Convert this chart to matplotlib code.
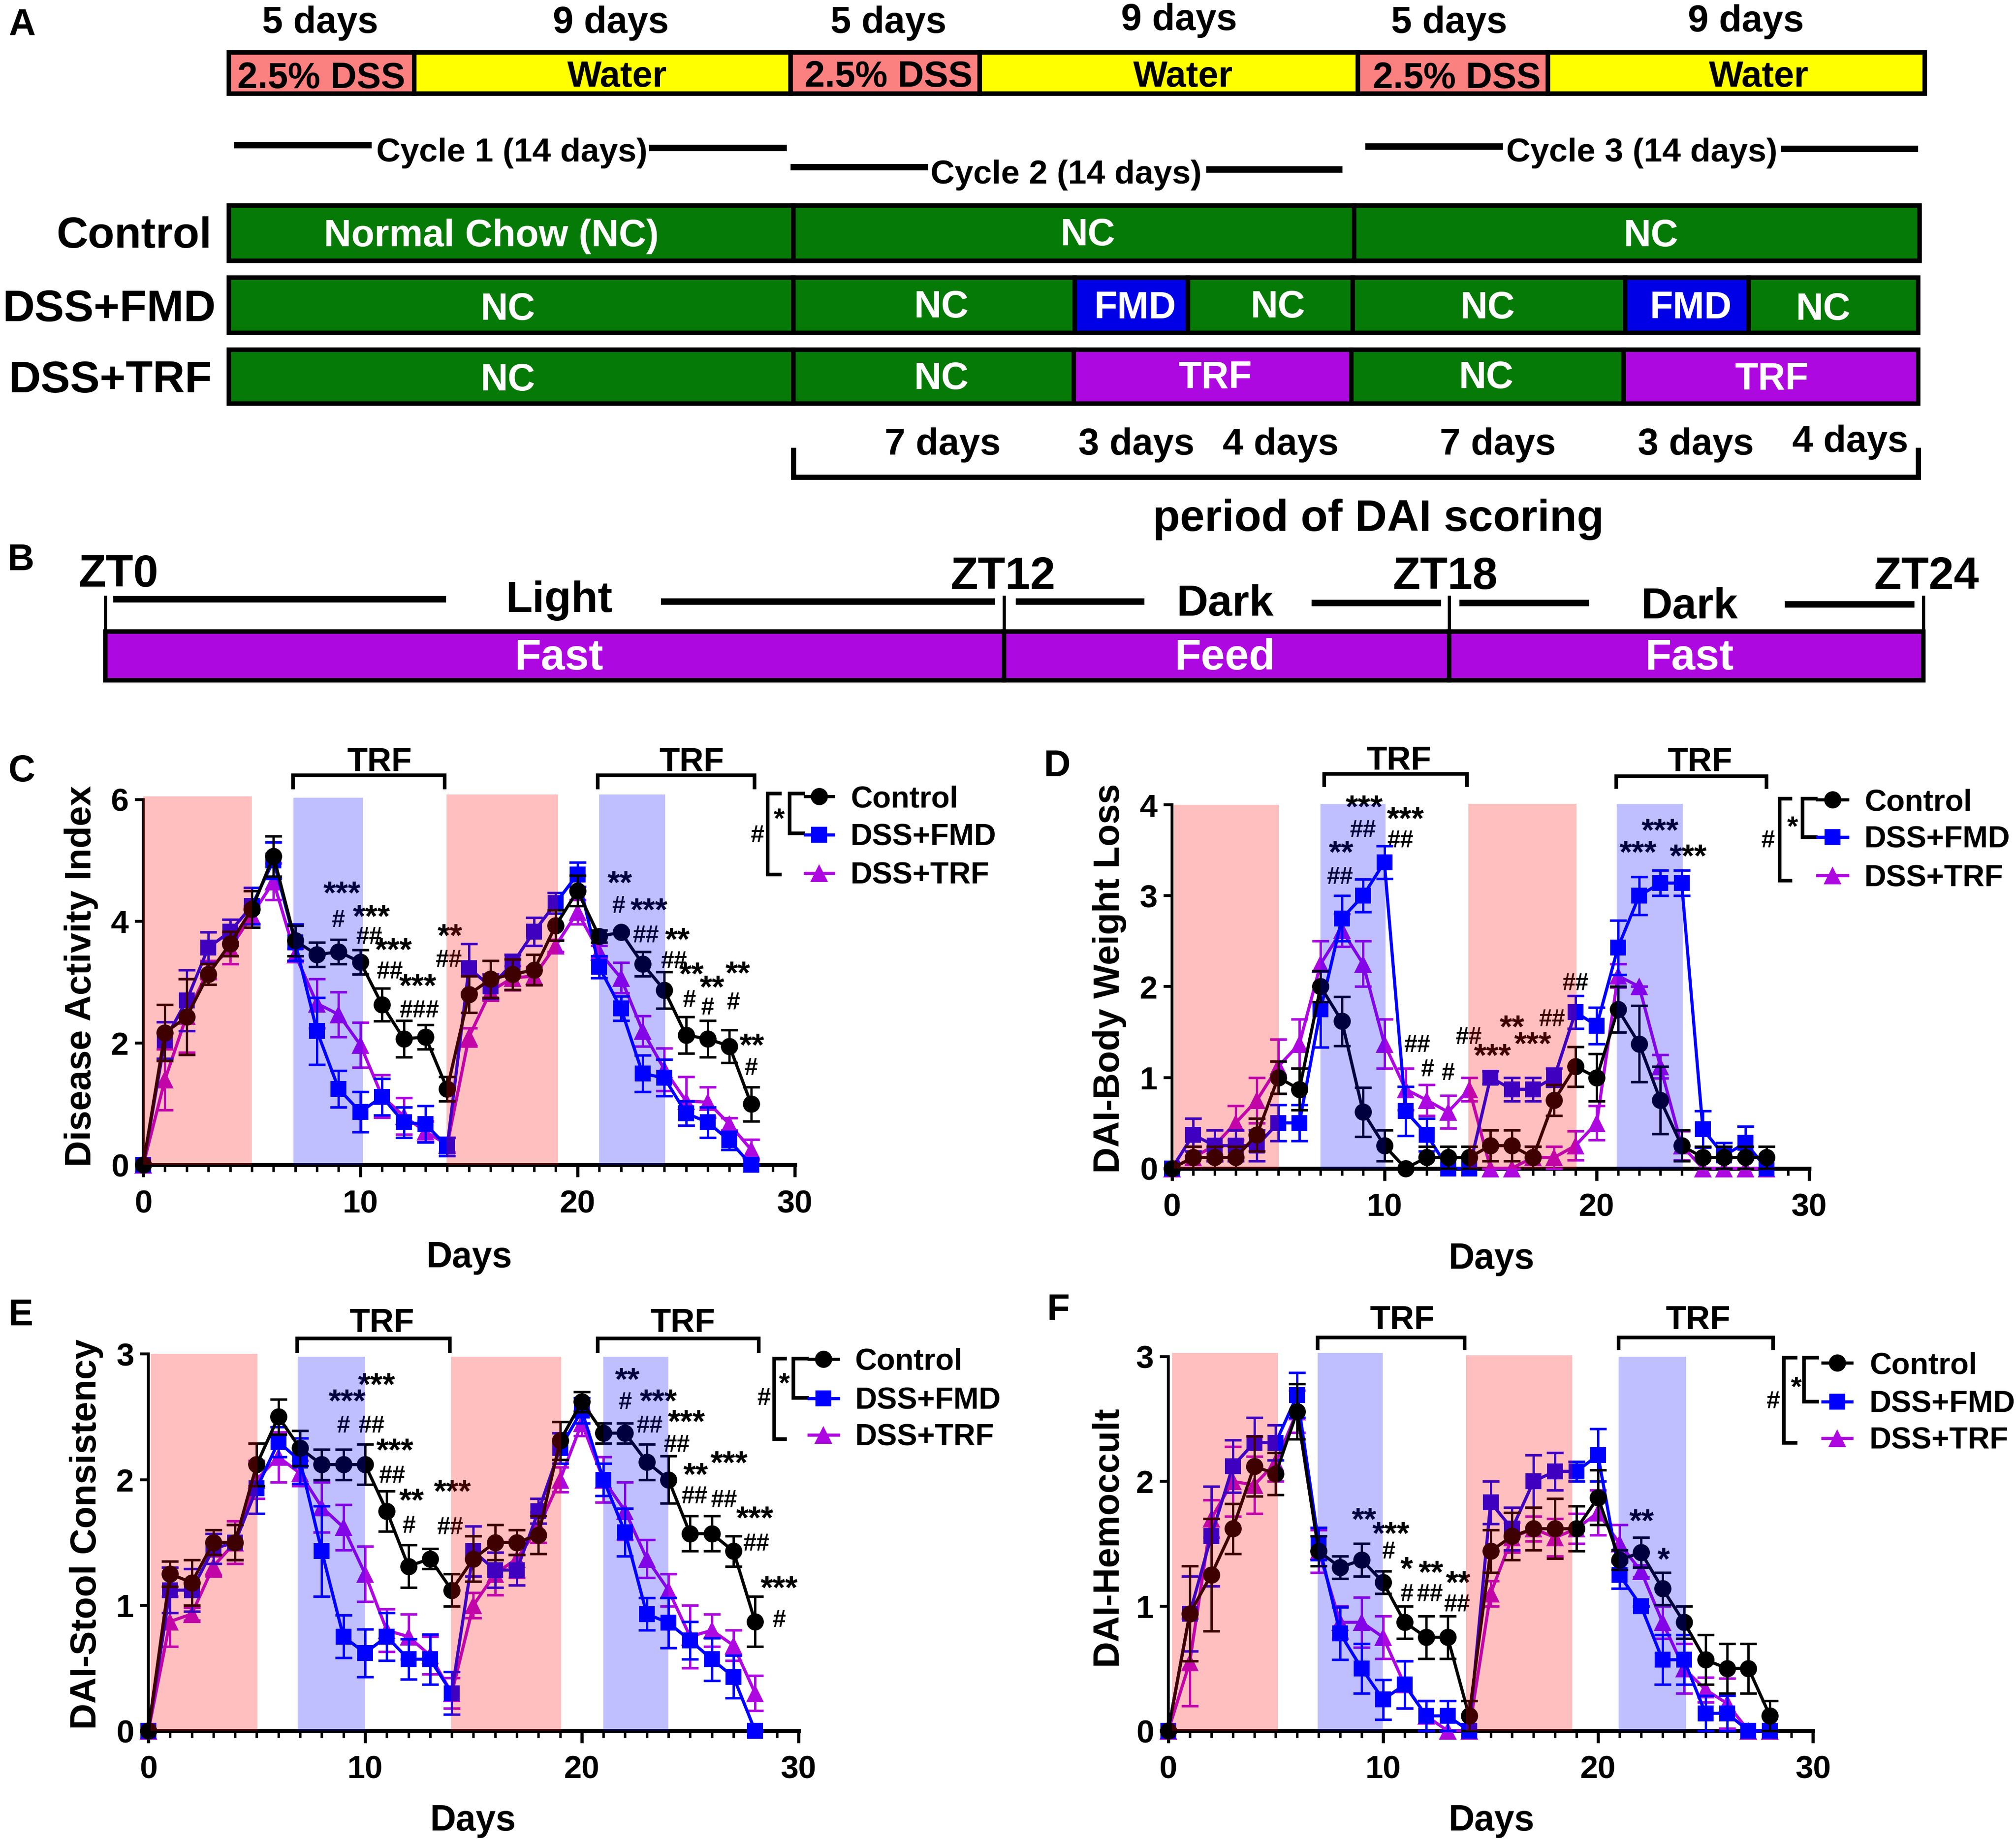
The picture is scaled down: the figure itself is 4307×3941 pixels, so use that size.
import matplotlib
matplotlib.use("Agg")
import matplotlib.pyplot as plt
from matplotlib.patches import Rectangle
from matplotlib.ticker import MultipleLocator

plt.rcParams['font.family'] = ['Liberation Sans', 'DejaVu Sans']
plt.rcParams['font.weight'] = 'bold'

days = list(range(29))

c_ctrl = [0,2.17,2.43,3.13,3.63,4.2,5.07,3.68,3.45,3.5,3.33,2.63,2.07,2.1,1.25,2.8,3.05,3.13,3.2,3.93,4.5,3.75,3.82,3.3,2.87,2.13,2.07,1.95,1.0]
c_ctrl_e = [0,.46,.62,.17,.2,.3,.33,.25,.2,.2,.2,.27,.3,.2,.2,.3,.3,.25,.25,.25,.25,.1,.03,.2,.3,.3,.3,.27,.28]
c_fmd = [0,2.05,2.7,3.57,3.83,4.25,5.0,3.65,2.2,1.25,.87,1.12,.7,.67,.3,3.23,2.93,3.3,3.83,4.3,4.77,3.25,2.57,1.5,1.43,.85,.7,.4,0]
c_fmd_e = [0,.3,.5,.25,.2,.3,.3,.3,.55,.3,.33,.3,.25,.3,.15,.4,.2,.15,.23,.17,.2,.18,.2,.3,.3,.2,.25,.15,0]
c_trf = [0,1.4,2.45,3.2,3.55,4.1,4.65,3.45,2.65,2.47,1.97,1.13,.8,.55,.33,2.1,2.85,3.07,3.1,3.6,4.15,3.5,3.07,2.2,1.57,1.05,1.03,.67,.25]
c_trf_e = [0,.5,.6,.15,.25,.15,.3,.1,.4,.37,.37,.35,.3,.17,.12,.15,.15,.2,.15,.1,.2,.1,.25,.25,.35,.4,.25,.1,.17]

d_ctrl = [0,.12,.12,.12,.37,1.0,.87,2.0,1.62,.62,.25,0,.12,.12,.12,.25,.25,.12,.75,1.12,1.0,1.75,1.37,.75,.25,.12,.12,.12,.12]
d_ctrl_e = [0,.12,.12,.12,.18,.18,.23,.17,.27,.27,.17,0,.12,.12,.12,.17,.17,.12,.17,.22,.26,.25,.42,.37,.17,.12,.12,.12,.12]
d_fmd = [0,.37,.25,.25,.25,.5,.5,1.75,2.75,3.0,3.37,.63,.37,0,0,1.0,.87,.87,1.0,1.72,1.57,2.43,3.0,3.14,3.14,.43,.14,.28,0]
d_fmd_e = [0,.18,.17,.17,.17,.2,.2,.42,.25,.18,.18,.27,.18,0,0,.07,.13,.13,.1,.18,.2,.3,.21,.14,.14,.2,.14,.18,0]
d_trf = [0,.12,.25,.5,.75,1.12,1.37,2.25,2.62,2.25,1.37,.87,.75,.62,.87,0,0,.12,.12,.25,.5,2.12,2.0,1.12,.25,0,0,0,0]
d_trf_e = [0,.12,.17,.19,.25,.3,.27,.25,.18,.25,.27,.23,.17,.18,.13,0,0,.12,.12,.16,.19,.13,0,.13,.16,0,0,0,0]

e_ctrl = [0,1.25,1.18,1.5,1.5,2.12,2.5,2.25,2.12,2.12,2.12,1.75,1.31,1.37,1.12,1.37,1.5,1.5,1.56,2.31,2.62,2.37,2.37,2.14,2.0,1.57,1.57,1.43,.87]
e_ctrl_e = [0,.1,.18,.1,.14,.17,.14,.14,.12,.12,.16,.16,.17,.08,.13,.18,.14,.1,.15,.15,.08,.08,.08,.14,.19,.14,.14,.12,.2]
e_fmd = [0,1.12,1.12,1.45,1.5,1.93,2.3,2.15,1.43,.75,.62,.75,.57,.57,.3,1.43,1.28,1.28,1.75,2.25,2.55,2.0,1.58,.93,.86,.72,.57,.43,0]
e_fmd_e = [0,.18,.17,.12,.14,.2,.12,.18,.36,.17,.19,.19,.16,.2,.17,.2,.14,.12,.1,.12,.1,.13,.19,.13,.2,.15,.17,.17,0]
e_trf = [0,.87,.93,1.31,1.5,2.0,2.18,2.05,1.78,1.62,1.25,.8,.75,.6,.3,1.0,1.25,1.37,1.62,2.0,2.45,2.0,1.75,1.37,1.12,.75,.8,.68,.3]
e_trf_e = [0,.2,.05,.08,.17,.15,.2,.1,.2,.18,.22,.17,.18,.15,.12,.1,.17,.15,.12,.1,.1,.18,.23,.15,.13,.25,.13,.12,.14]

f_ctrl = [0,.94,1.25,1.62,2.12,2.06,2.56,1.44,1.31,1.37,1.19,.87,.75,.75,.12,1.44,1.56,1.62,1.62,1.62,1.87,1.37,1.43,1.14,.87,.57,.5,.5,.12]
f_ctrl_e = [0,.38,.45,.2,.24,.17,.22,.12,.09,.13,.09,.13,.17,.17,.12,.17,.19,.17,.24,.18,.22,.08,.12,.13,.13,.2,.2,.2,.12]
f_fmd = [0,.94,1.56,2.12,2.31,2.31,2.69,1.5,.78,.5,.25,.37,.12,.12,0,1.83,1.62,2.0,2.08,2.08,2.21,1.25,1.0,.57,.57,.14,.14,0,0]
f_fmd_e = [0,.3,.4,.21,.2,.14,.18,.13,.21,.2,.16,.19,.12,.12,0,.17,.17,.21,.15,.08,.21,.11,0,.2,.2,.14,.14,0,0]
f_trf = [0,.55,1.7,2.0,1.97,2.15,2.56,1.44,.87,.87,.75,.37,.12,0,0,1.1,1.55,1.62,1.55,1.62,1.75,1.5,1.28,.87,.5,.33,.22,0,0]
f_trf_e = [0,.35,.15,.28,.23,.15,.17,.17,.13,.2,.17,.19,.12,0,0,.1,.12,.1,.15,.12,.18,.15,.05,.13,.2,.1,.2,0,0]

series_names = ['Control', 'DSS+FMD', 'DSS+TRF']
BLACK, BLUE, PURPLE = '#000000', '#0000FF', '#AE08E0'

W, H = 1568.0, 1434.8
S = 4307 / W
PT = S * 72 / 300


def px(v):
    return v * PT


fig = plt.figure(figsize=(4307.2 / 300, 3941.2 / 300), dpi=300, facecolor='white')
ov = fig.add_axes([0, 0, 1, 1], zorder=0)
ov.set_xlim(0, W)
ov.set_ylim(H, 0)
ov.axis('off')


def T(x, y, s, size, color='black', rot=0, ha='center', va='center'):
    if rot:
        x += 1
    else:
        y += 2
    ov.text(x, y, s, fontsize=px(size), color=color, rotation=rot, ha=ha, va=va,
            fontweight='bold', zorder=20)


def L(xs, ys, w=4, color='black'):
    ov.plot(xs, ys, color=color, lw=px(w), solid_capstyle='butt', solid_joinstyle='miter', zorder=10)


def row(y0, y1, segs, edge=3.5):
    for a, b, c in segs:
        ov.add_patch(Rectangle((a, y0), b - a, y1 - y0, facecolor=c, edgecolor='black',
                               linewidth=px(edge), joinstyle='miter', zorder=5))


# ---------- Panel A
SALMON, YEL, GREEN, FBLUE = '#FB8080', '#FFFF00', '#067A06', '#0000E6'
row(41, 73, [(178, 322, SALMON), (322, 615, YEL), (615, 762, SALMON), (762, 1056, YEL),
             (1056, 1204, SALMON), (1204, 1497, YEL)])
top_labels = [(249, 16, '5 days'), (475, 16, '9 days'), (691, 16, '5 days'), (917, 14, '9 days'),
              (1127, 16, '5 days'), (1358, 15, '9 days')]
for x, y, s in top_labels:
    T(x, y, s, 29)
for x, y, s in [(250, 59, '2.5% DSS'), (480, 58, 'Water'), (691, 58, '2.5% DSS'), (920, 58, 'Water'),
                (1133, 59, '2.5% DSS'), (1368, 58, 'Water')]:
    T(x, y, s, 28.3)
for xs, y in [((182, 289), 113), ((505, 612), 115), ((615, 722), 130), ((938, 1044), 132),
              ((1062, 1169), 114), ((1385, 1492), 116)]:
    L(xs, (y, y), 5)
T(398, 117, 'Cycle 1 (14 days)', 26)
T(829, 134, 'Cycle 2 (14 days)', 26)
T(1277, 117, 'Cycle 3 (14 days)', 26)

row(160, 203, [(178, 617, GREEN), (617, 1053, GREEN), (1053, 1493, GREEN)])
row(216, 259, [(178, 617, GREEN), (617, 836, GREEN), (836, 924, FBLUE), (924, 1052, GREEN),
               (1052, 1264, GREEN), (1264, 1360, FBLUE), (1360, 1492, GREEN)])
row(272, 314, [(178, 617, GREEN), (617, 835, GREEN), (835, 1051, PURPLE), (1051, 1263, GREEN),
               (1263, 1492, PURPLE)])
T(104, 182, 'Control', 34)
T(85, 239, 'DSS+FMD', 34.5)
T(86, 294, 'DSS+TRF', 34.5)
for x, y, s in [(382, 182, 'Normal Chow (NC)'), (846, 181, 'NC'), (1284, 182, 'NC'),
                (395, 239, 'NC'), (732, 237, 'NC'), (883, 238, 'FMD'), (994, 237, 'NC'),
                (1157, 238, 'NC'), (1315, 238, 'FMD'), (1418, 239, 'NC'),
                (395, 294, 'NC'), (732, 293, 'NC'), (945, 292, 'TRF'), (1156, 292, 'NC'), (1378, 293, 'TRF')]:
    T(x, y, s, 29.5, color='white')
for x, y, s in [(733, 344, '7 days'), (884, 344, '3 days'), (996, 344, '4 days'),
                (1165, 344, '7 days'), (1319, 344, '3 days'), (1439, 342, '4 days')]:
    T(x, y, s, 29)
L((617, 617, 1492, 1492), (348, 371, 371, 348), 4)
T(1072, 402, 'period of DAI scoring', 34.5)

# ---------- Panel B
for x, y, s in [(92, 445, 'ZT0'), (780, 447, 'ZT12'), (1124, 447, 'ZT18'), (1498, 447, 'ZT24')]:
    T(x, y, s, 35)
for x in (82, 781, 1127, 1496):
    L((x, x), (463, 490), 2.5)
for xs, y in [((88, 347), 466), ((514, 774), 468), ((790, 890), 468), ((1020, 1121), 469),
              ((1135, 1236), 469), ((1388, 1489), 470)]:
    L(xs, (y, y), 5)
T(435, 465, 'Light', 34)
T(953, 468, 'Dark', 34)
T(1314, 470, 'Dark', 34)
row(491, 529, [(82, 781, PURPLE), (781, 1127, PURPLE), (1127, 1496, PURPLE)])
T(435, 510, 'Fast', 33.6, 'white')
T(953, 510, 'Feed', 33.6, 'white')
T(1314, 510, 'Fast', 33.6, 'white')

for x, y, s in [(17, 18, 'A'), (16, 434, 'B'), (17, 598, 'C'), (822, 594, 'D'), (16, 1021, 'E'), (823, 1017, 'F')]:
    T(x, y, s, 29)


# ---------- Panels C-F
def panel(x0, x30, y0, ytop, ymax, yticks, data, spans):
    ax = fig.add_axes([x0 / W, 1 - y0 / H, (x30 - x0) / W, (y0 - ytop) / H], zorder=2)
    ax.patch.set_alpha(0)
    ax.set_xlim(0, 30)
    ax.set_ylim(0, ymax)
    styles = [(PURPLE, '^', 9.0, 3), (BLUE, 's', 8.3, 4), (BLACK, 'o', 8.8, 5)]
    for (mean, err), (col, m, ms, z) in zip(data, styles):
        cont = ax.errorbar(days, mean, yerr=err, fmt='-' + m, color=col, ecolor=col, ms=ms, lw=1.6,
                           elinewidth=1.2, capsize=4.3, capthick=1.3, zorder=z)
        cont.lines[0].set_markeredgewidth(0)
        for art in [cont.lines[0], *cont.lines[1], *cont.lines[2]]:
            art.set_clip_on(False)
    for a, b, top, c in spans:
        ax.fill_between([a, b], [0, 0], [top, top], color=c, alpha=0.25, lw=0, zorder=6, clip_on=False)
    for side in ('top', 'right'):
        ax.spines[side].set_visible(False)
    ax.spines['bottom'].set_linewidth(2.1)
    ax.spines['left'].set_linewidth(1.5)
    ax.set_xticks([0, 10, 20, 30])
    ax.xaxis.set_minor_locator(MultipleLocator(1))
    ax.set_yticks(yticks)
    ax.tick_params(axis='x', which='major', length=6.2, width=1.6, pad=6.2, labelsize=px(25))
    ax.tick_params(axis='x', which='minor', length=3.5, width=1.3)
    ax.tick_params(axis='y', which='major', length=4.4, width=1.5, pad=3, labelsize=px(25))
    return ax


RED, BL = '#FF0000', '#0000FF'
panel(111.4, 618, 906, 621.7, 6, [0, 2, 4, 6],
      [(c_trf, c_trf_e), (c_fmd, c_fmd_e), (c_ctrl, c_ctrl_e)],
      [(0, 5, 6.05, RED), (6.93, 10.1, 6.03, BL), (13.97, 19.1, 6.08, RED), (21, 24.04, 6.08, BL)])
panel(911.5, 1407, 908.6, 626, 4, [0, 1, 2, 3, 4],
      [(d_trf, d_trf_e), (d_fmd, d_fmd_e), (d_ctrl, d_ctrl_e)],
      [(0.1, 5.03, 4, RED), (6.98, 10.06, 4.01, BL), (13.95, 19.05, 4.01, RED), (20.95, 24.05, 4.01, BL)])
panel(115.4, 621, 1346, 1053, 3, [0, 1, 2, 3],
      [(e_trf, e_trf_e), (e_fmd, e_fmd_e), (e_ctrl, e_ctrl_e)],
      [(0.1, 5.03, 3, RED), (6.9, 10, 2.98, BL), (13.98, 19.06, 2.98, RED), (21, 24, 2.98, BL)])
panel(908.6, 1410, 1346, 1055, 3, [0, 1, 2, 3],
      [(f_trf, f_trf_e), (f_fmd, f_fmd_e), (f_ctrl, f_ctrl_e)],
      [(0.17, 5.09, 3.03, RED), (6.96, 9.97, 3.03, BL), (13.86, 18.8, 3.01, RED), (20.96, 24.1, 3.0, BL)])

T(62, 759, 'Disease Activity Index', 28.2, rot=90)
T(862, 761, 'DAI-Body Weight Loss', 28.2, rot=90)
T(66, 1193, 'DAI-Stool Consistency', 28.2, rot=90)
T(860, 1194, 'DAI-Hemoccult', 28.2, rot=90)
for x, y in [(365, 976), (1160, 977), (368, 1414), (1160, 1414)]:
    T(x, y, 'Days', 28)

# TRF brackets: (x0, x1, ytop, ybottom, label x, label y)
for a, b, t, bt, lx, ly in [(228, 346, 603, 614, 295, 592), (465, 587, 603, 614, 538, 592),
                            (1030, 1141, 602, 612, 1088, 591), (1257, 1374, 603.5, 613.6, 1322, 592),
                            (231, 350, 1041, 1052, 297, 1028), (465, 590, 1041, 1052, 531, 1028),
                            (1024.6, 1139, 1040, 1050, 1090.6, 1026), (1259, 1379, 1040, 1050, 1320.5, 1026)]:
    L((a, a, b, b), (bt, t, t, bt), 2.8)
    T(lx, ly - 1, 'TRF', 26)


# Legends with significance brackets
def legend(ox0, ox1, oy0, oy1, ix0, ix1, iy1, lx0, lx1, ys, tx, star, hash_):
    L((ox1, ox0, ox0, ox1), (oy0, oy0, oy1, oy1), 2.8)
    L((ix1, ix0, ix0, ix1), (oy0, oy0, iy1, iy1), 2.8)
    xm = (lx0 + lx1) / 2
    for y, name, col, m, ms in zip(ys, series_names, [BLACK, BLUE, PURPLE], ['o', 's', '^'], [8.8, 8.3, 9.0]):
        ov.plot([lx0, lx1], [y, y], color=col, lw=1.6, zorder=10)
        ov.plot([xm], [y], marker=m, color=col, ms=ms, mew=0, zorder=11)
        T(tx, y, name, 23.6, ha='left')
    T(star[0], star[1], '*', 22)
    T(hash_[0], hash_[1] - 2, '#', 19)


legend(597, 608, 617, 680, 614, 626, 648, 626, 648, (619.5, 649, 679), 661.5, (606, 636), (589, 650))
legend(1384, 1394, 621, 685, 1402, 1413.5, 651, 1413.5, 1437, (622, 651, 681), 1450, (1394, 642), (1375, 654))
legend(602, 612, 1056.6, 1119, 617, 629, 1087, 629, 652, (1057, 1087.5, 1116), 665, (610, 1075), (594, 1087.5))
legend(1387.5, 1398, 1056, 1122, 1403, 1414.5, 1090, 1417.5, 1440, (1060, 1090, 1118.5), 1454, (1397, 1078), (1379, 1090))

# Significance marks (x, y, text)
marks_c = [(266,696,'***'),(263,716,'#'),(289,714,'***'),(287,729,'##'),(306,740,'***'),(303,756,'##'),
           (325,768,'***'),(326,786,'###'),(350,729,'**'),(349,747,'##'),(482,688,'**'),(481,705,'#'),
           (505,709,'***'),(502,728,'##'),(527,732,'**'),(524,748,'##'),(538,759,'**'),(536,778,'#'),
           (554,769,'**'),(550,784,'#'),(574,758,'**'),(570,780,'#'),(585,814,'**'),(584,831,'#')]
marks_d = [(1043,664,'**'),(1042,682.5,'##'),(1061,629,'***'),(1060,646,'##'),(1093,638,'***'),(1089,654,'##'),
           (1102,813,'##'),(1110,832,'#'),(1126,835,'#'),(1142,807,'##'),(1161,822,'***'),(1176,800,'**'),
           (1192,813,'***'),(1207,793,'##'),(1225,765,'##'),(1274,664,'***'),(1291,647,'***'),(1313,667,'***')]
marks_e = [(270,1091,'***'),(267,1109,'#'),(293,1078,'***'),(289,1109,'##'),(307,1129,'***'),(305,1148,'##'),
           (320,1168,'**'),(318,1187,'#'),(352,1161,'***'),(350,1188,'##'),(488,1074,'**'),(486,1091,'#'),
           (512,1091,'***'),(505,1109,'##'),(534,1107,'***'),(526,1124,'##'),(541,1148,'**'),(540,1164,'##'),
           (567,1139,'***'),(563,1167,'##'),(587,1182,'***'),(588,1201,'##'),(606,1236,'***'),(606,1260,'#')]
marks_f = [(1061,1183,'**'),(1082,1194,'***'),(1080,1207,'#'),(1094,1221,'*'),(1094,1240,'#'),(1113,1224,'**'),
           (1112,1240,'##'),(1134,1232,'**'),(1133,1248,'##'),(1277,1184,'**'),(1294,1214,'*')]
for x, y, s in marks_c + marks_d + marks_e + marks_f:
    if '*' in s:
        T(x, y - 2, s, 25)
    else:
        T(x, y - 2, s, 18.5)

fig.savefig('out.png', dpi=300, facecolor='white')
